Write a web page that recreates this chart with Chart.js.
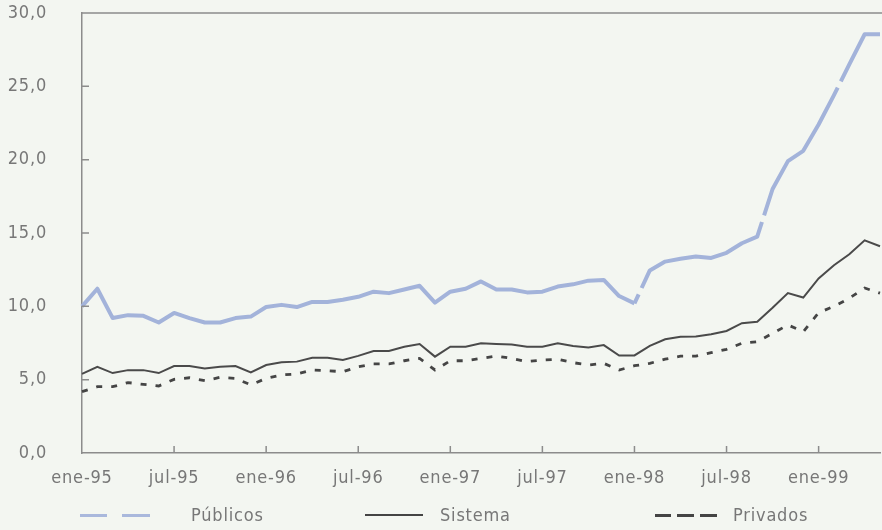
<!DOCTYPE html>
<html>
<head>
<meta charset="utf-8">
<script src="https://cdn.jsdelivr.net/npm/chart.js@4/dist/chart.umd.min.js"></script>
<style>
  html, body { margin: 0; padding: 0; background: #f3f6f1; overflow: hidden; }
  #wrap { position: relative; width: 882px; height: 530px; background: #f3f6f1; }
  canvas { position: absolute; left: 0; top: 0; }
  .lg { position: absolute; font-family: "DejaVu Sans Condensed", "DejaVu Sans", sans-serif; font-size: 18px; color: #777; line-height: 20px; top: 505px; letter-spacing: 0.8px; }
  .sw { position: absolute; }
</style>
</head>
<body>
<div id="wrap">
  <canvas id="c" width="882" height="530"></canvas>
  <div class="sw" style="left:80px;top:514px;width:27px;height:3px;background:#a9b8dc"></div>
  <div class="sw" style="left:122px;top:514px;width:28px;height:3px;background:#a9b8dc"></div>
  <div class="lg" style="left:191px">Públicos</div>
  <div class="sw" style="left:365px;top:514px;width:58px;height:2px;background:#444"></div>
  <div class="lg" style="left:440px">Sistema</div>
  <div class="sw" style="left:655px;top:514px;width:16px;height:3px;background:#444"></div>
  <div class="sw" style="left:677px;top:514px;width:17px;height:3px;background:#444"></div>
  <div class="sw" style="left:700px;top:514px;width:17px;height:3px;background:#444"></div>
  <div class="lg" style="left:733px">Privados</div>
</div>
<script>
const months = [
  'ene-95','feb-95','mar-95','abr-95','may-95','jun-95','jul-95','ago-95','sep-95','oct-95','nov-95','dic-95',
  'ene-96','feb-96','mar-96','abr-96','may-96','jun-96','jul-96','ago-96','sep-96','oct-96','nov-96','dic-96',
  'ene-97','feb-97','mar-97','abr-97','may-97','jun-97','jul-97','ago-97','sep-97','oct-97','nov-97','dic-97',
  'ene-98','feb-98','mar-98','abr-98','may-98','jun-98','jul-98','ago-98','sep-98','oct-98','nov-98','dic-98',
  'ene-99','feb-99','mar-99','abr-99','may-99'
];
const publicos = [
  10.0, 11.2, 9.2, 9.4, 9.35, 8.9, 9.55, 9.2, 8.9, 8.9, 9.2, 9.3,
  9.95, 10.1, 9.95, 10.3, 10.3, 10.45, 10.65, 11.0, 10.9, 11.15, 11.4, 10.25,
  11.0, 11.2, 11.7, 11.15, 11.15, 10.95, 11.0, 11.35, 11.5, 11.75, 11.8, 10.7,
  10.2, 12.45, 13.05, 13.25, 13.4, 13.3, 13.65, 14.3, 14.75, 18.0, 19.9, 20.6,
  22.4, 24.4, 26.5, 28.55, 28.55
];
const sistema = [
  5.4, 5.88, 5.45, 5.65, 5.65, 5.45, 5.93, 5.93, 5.77, 5.88, 5.93, 5.5,
  6.0, 6.18, 6.23, 6.5, 6.5, 6.35, 6.62, 6.95, 6.95, 7.25, 7.43, 6.57,
  7.25, 7.25, 7.48, 7.43, 7.4, 7.25, 7.25, 7.48, 7.3, 7.2, 7.36, 6.64,
  6.65, 7.3, 7.75, 7.93, 7.95, 8.1, 8.32, 8.85, 8.95, 9.9, 10.9, 10.6,
  11.9, 12.8, 13.55, 14.5, 14.1
];
const privados = [
  4.18, 4.52, 4.52, 4.8, 4.68, 4.57, 5.02, 5.13, 4.93, 5.16, 5.09, 4.64,
  5.09, 5.32, 5.39, 5.66, 5.61, 5.54, 5.88, 6.07, 6.07, 6.29, 6.45, 5.66,
  6.29, 6.29, 6.45, 6.61, 6.45, 6.23, 6.34, 6.39, 6.16, 6.0, 6.11, 5.66,
  5.95, 6.11, 6.4, 6.6, 6.6, 6.84, 7.07, 7.48, 7.59, 8.16, 8.73, 8.27,
  9.56, 10.0, 10.55, 11.25, 10.9
];
const yTicks = [0, 5, 10, 15, 20, 25, 30];

const FONT = { family: '"DejaVu Sans Condensed", "DejaVu Sans", sans-serif', size: 18 };
const AXIS = '#8c8c8c';

const frame = {
  id: 'frame',
  beforeDraw(chart) {
    if ('letterSpacing' in chart.ctx) chart.ctx.letterSpacing = '0.8px';
  },
  afterDraw(chart) {
    const { ctx, chartArea: a } = chart;
    const xs = chart.scales.x, ys = chart.scales.y;
    ctx.save();
    ctx.strokeStyle = AXIS;
    ctx.lineWidth = 1.5;
    ctx.beginPath();
    ctx.moveTo(a.left, a.top);
    ctx.lineTo(chart.width, a.top);
    yTicks.forEach(v => {
      if (v === 0 || v === 30) return;
      const y = ys.getPixelForValue(v);
      ctx.moveTo(a.left, y); ctx.lineTo(a.left + 7, y);
    });
    months.forEach((m, i) => {
      if (i === 0 || i % 6 !== 0) return;
      const x = xs.getPixelForValue(i);
      ctx.moveTo(x, a.bottom); ctx.lineTo(x, a.bottom - 7);
    });
    ctx.stroke();
    ctx.restore();
  }
};

new Chart(document.getElementById('c'), {
  type: 'line',
  data: {
    labels: months,
    datasets: [
      {
        label: 'Públicos', data: publicos,
        borderColor: '#a3b3da', borderWidth: 4, pointRadius: 0, tension: 0,
        borderJoinStyle: 'round',
        segment: {
          borderDash: ctx => ctx.p0DataIndex >= 36 ? [150, 7] : undefined,
          borderDashOffset: ctx => ctx.p0DataIndex >= 36 ? 140 : 0
        }
      },
      {
        label: 'Sistema', data: sistema,
        borderColor: '#4a4a4a', borderWidth: 2, pointRadius: 0, tension: 0
      },
      {
        label: 'Privados', data: privados,
        borderColor: '#454545', borderWidth: 2.8, pointRadius: 0, tension: 0,
        borderDash: [6, 9]
      }
    ]
  },
  options: {
    responsive: false,
    animation: false,
    devicePixelRatio: 1,
    layout: { padding: { top: 13, right: 2, bottom: 43, left: 0 } },
    plugins: { legend: { display: false }, tooltip: { enabled: false } },
    scales: {
      x: {
        type: 'category',
        offset: false,
        grid: { display: true, drawOnChartArea: false, drawTicks: true, tickLength: 15, tickColor: 'rgba(0,0,0,0)' },
        border: { display: true, color: AXIS, width: 1.5 },
        afterFit: s => { s.height = 34; },
        ticks: {
          autoSkip: false, maxRotation: 0, minRotation: 0, padding: 0,
          color: '#777', font: FONT,
          callback: (v, i) => (i % 6 === 0 ? months[i] : null)
        }
      },
      y: {
        min: 0, max: 30,
        afterFit: s => { s.width = 82; },
        afterBuildTicks: s => { s.ticks = yTicks.map(v => ({ value: v })); },
        grid: { display: true, drawOnChartArea: false, drawTicks: true, tickLength: 35, tickColor: 'rgba(0,0,0,0)' },
        border: { display: true, color: AXIS, width: 1.5 },
        ticks: {
          padding: 0, color: '#777', font: FONT,
          callback: v => v.toFixed(1).replace('.', ',')
        }
      }
    }
  },
  plugins: [frame]
});
</script>
</body>
</html>
